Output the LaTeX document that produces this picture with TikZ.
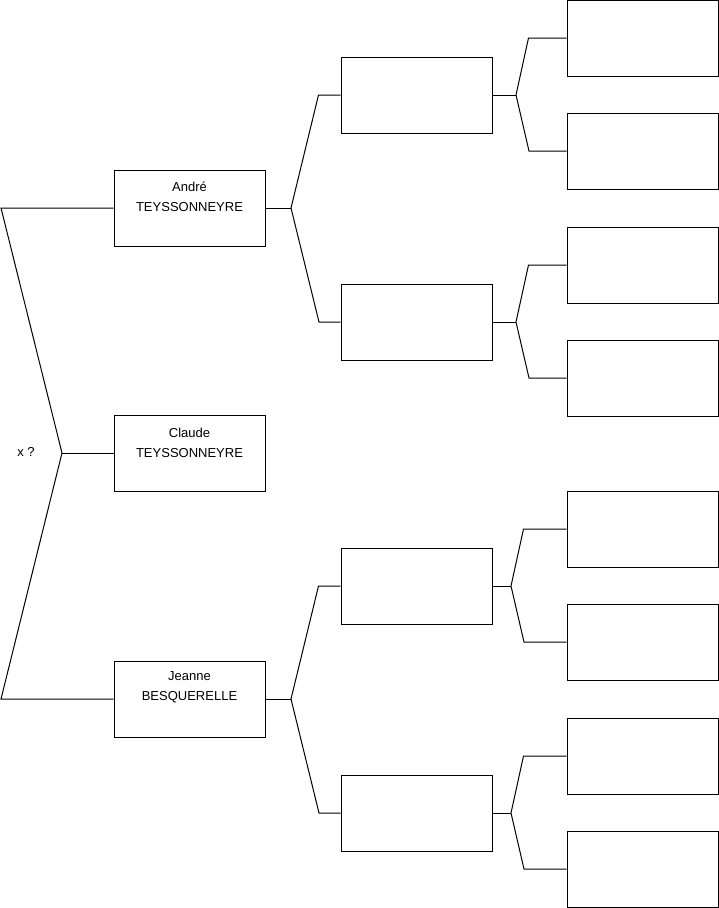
\documentclass[tikz,border=0pt]{standalone}
\usepackage{fontspec}
\setmainfont{Liberation Sans}
\usetikzlibrary{calc}

\begin{document}
\begin{tikzpicture}[-,x=1pt,y=-1pt,line width=1pt,color=black,
    box/.style={draw,rectangle,minimum width=151pt,minimum height=76pt,inner sep=0pt},
    txt/.style={align=center,font=\fontsize{13}{20}\selectfont,inner sep=0pt}]
		\useasboundingbox (0,0) rectangle (719,908);
		\node[box] (1) at (189.5,208){};
		\node[box] (2) at (189.5,453){};
		\node[box] (3) at (189.5,699){};
		\node[txt] (t1) at (189.5,197){André\\TEYSSONNEYRE};
		\node[txt] (t2) at (189.5,443){Claude\\TEYSSONNEYRE};
		\node[txt] (t3) at (189.5,687){Jeanne\\BESQUERELLE};
		\node[txt] (x) at (26,452){x ?};
		\node[box] (11) at (416.5,95){};
		\node[box] (12) at (416.5,322){};
		\node[box] (31) at (416.5,586){};
		\node[box] (32) at (416.5,813){};
		\node[box] (111) at (642.5,38){};
		\node[box] (112) at (642.5,151){};
		\node[box] (121) at (642.5,265){};
		\node[box] (122) at (642.5,378){};
		\node[box] (311) at (642.5,529){};
		\node[box] (312) at (642.5,642){};
		\node[box] (321) at (642.5,756){};
		\node[box] (322) at (642.5,869){};
		\coordinate (k) at (62,453);
		\coordinate (k1) at (1,208);
		\coordinate (k3) at (1,699);
		\coordinate (f1) at (291,208);
		\coordinate (f3) at (291,699);
		\coordinate (f11) at (516,95);
		\coordinate (f12) at (516,322);
		\coordinate (f31) at (511,586);
		\coordinate (f32) at (511,813);
		\draw (1.west) -- (k1) -- (k) -- (k3) -- (3.west);
		\draw (k) -- (2.west);
		\draw (1.east) -- (f1);
		\draw (11.west) -- ++(-22,0) -- (f1) -- (319,322) -- (12.west);
		\draw (3.east) -- (f3);
		\draw (31.west) -- ++(-22,0) -- (f3) -- (319,813) -- (32.west);
		\draw (11.east) -- (f11);
		\draw (111.west) -- ++(-38,0) -- (f11) -- (529,151) -- (112.west);
		\draw (12.east) -- (f12);
		\draw (121.west) -- ++(-38,0) -- (f12) -- (529,378) -- (122.west);
		\draw (31.east) -- (f31);
		\draw (311.west) -- ++(-43,0) -- (f31) -- (524,642) -- (312.west);
		\draw (32.east) -- (f32);
		\draw (321.west) -- ++(-43,0) -- (f32) -- (524,869) -- (322.west);
\end{tikzpicture}
\end{document}
